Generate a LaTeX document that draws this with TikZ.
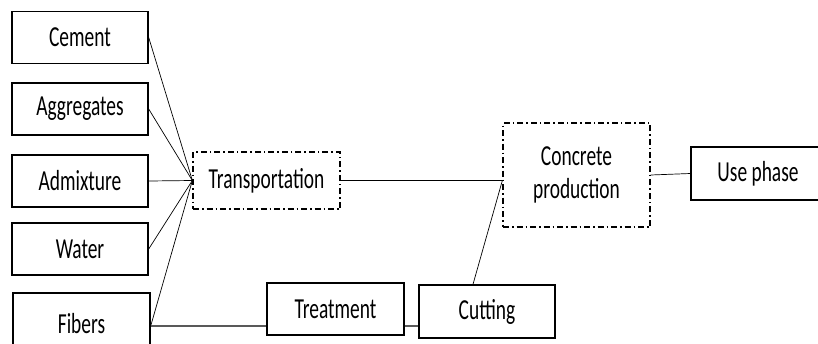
\documentclass[tikz,border=0pt]{standalone}
\usepackage{fontspec}
\setmainfont[FakeStretch=0.67]{Carlito}

\begin{document}
\begin{tikzpicture}[x=1pt, y=-1pt,
    box/.style={draw, line width=1.4pt, inner sep=0pt, minimum width=136pt, minimum height=52pt, align=center, font=\fontsize{29}{33}\selectfont},
    dbox/.style={box, line width=1.3pt, dash pattern=on 6pt off 3pt on 1.5pt off 3pt},
    link/.style={line width=0.7pt},
    glink/.style={line width=1.3pt, black!65}]
    \useasboundingbox (0,0) rectangle (818,343);

    % Materiales
    \node[box] (cement) at (80,37.5) {Cement};
    \node[box] (aggr) at (80,109) {Aggregates};
    \node[box] (admix) at (80,181) {Admixture};
    \node[box] (water) at (80,249) {Water};
    \node[box, minimum width=137pt, minimum height=62pt] (fibers) at (81.5,324) {Fibers};

    % Procesos
    \node[dbox, minimum width=147pt, minimum height=57pt] (trans) at (266.5,180.5) {Transportation};
    \node[dbox, minimum width=147pt, minimum height=104pt] (conc) at (576.5,175) {Concrete\\production};
    \node[box, minimum width=134pt, minimum height=53pt] (use) at (758,173.5) {Use phase};
    \node[box, minimum width=137pt] (treat) at (335.5,309) {Treatment};
    \node[box, minimum height=53pt] (cut) at (487,311.5) {Cutting};

    % Conexiones
    \foreach \m in {cement, aggr, admix, water}
        \draw[link] (\m.east) -- (trans.west);
    \draw[link] ([yshift=-2pt]fibers.east) -- (trans.west);
    \draw[link] (trans.east) -- (trans.east -| conc.west);
    \draw[link] ([xshift=-14pt]cut.north) -- (trans.east -| conc.west);
    \draw[link] (conc.east) -- (use.west);

    % Ruta de las fibras
    \draw[glink] ([yshift=-2pt]fibers.east) -- ([yshift=-2pt]fibers.east -| treat.west);
    \draw[glink] ([yshift=-2pt]treat.east |- fibers.east) -- ([yshift=-2pt]cut.west |- fibers.east);
\end{tikzpicture}
\end{document}
